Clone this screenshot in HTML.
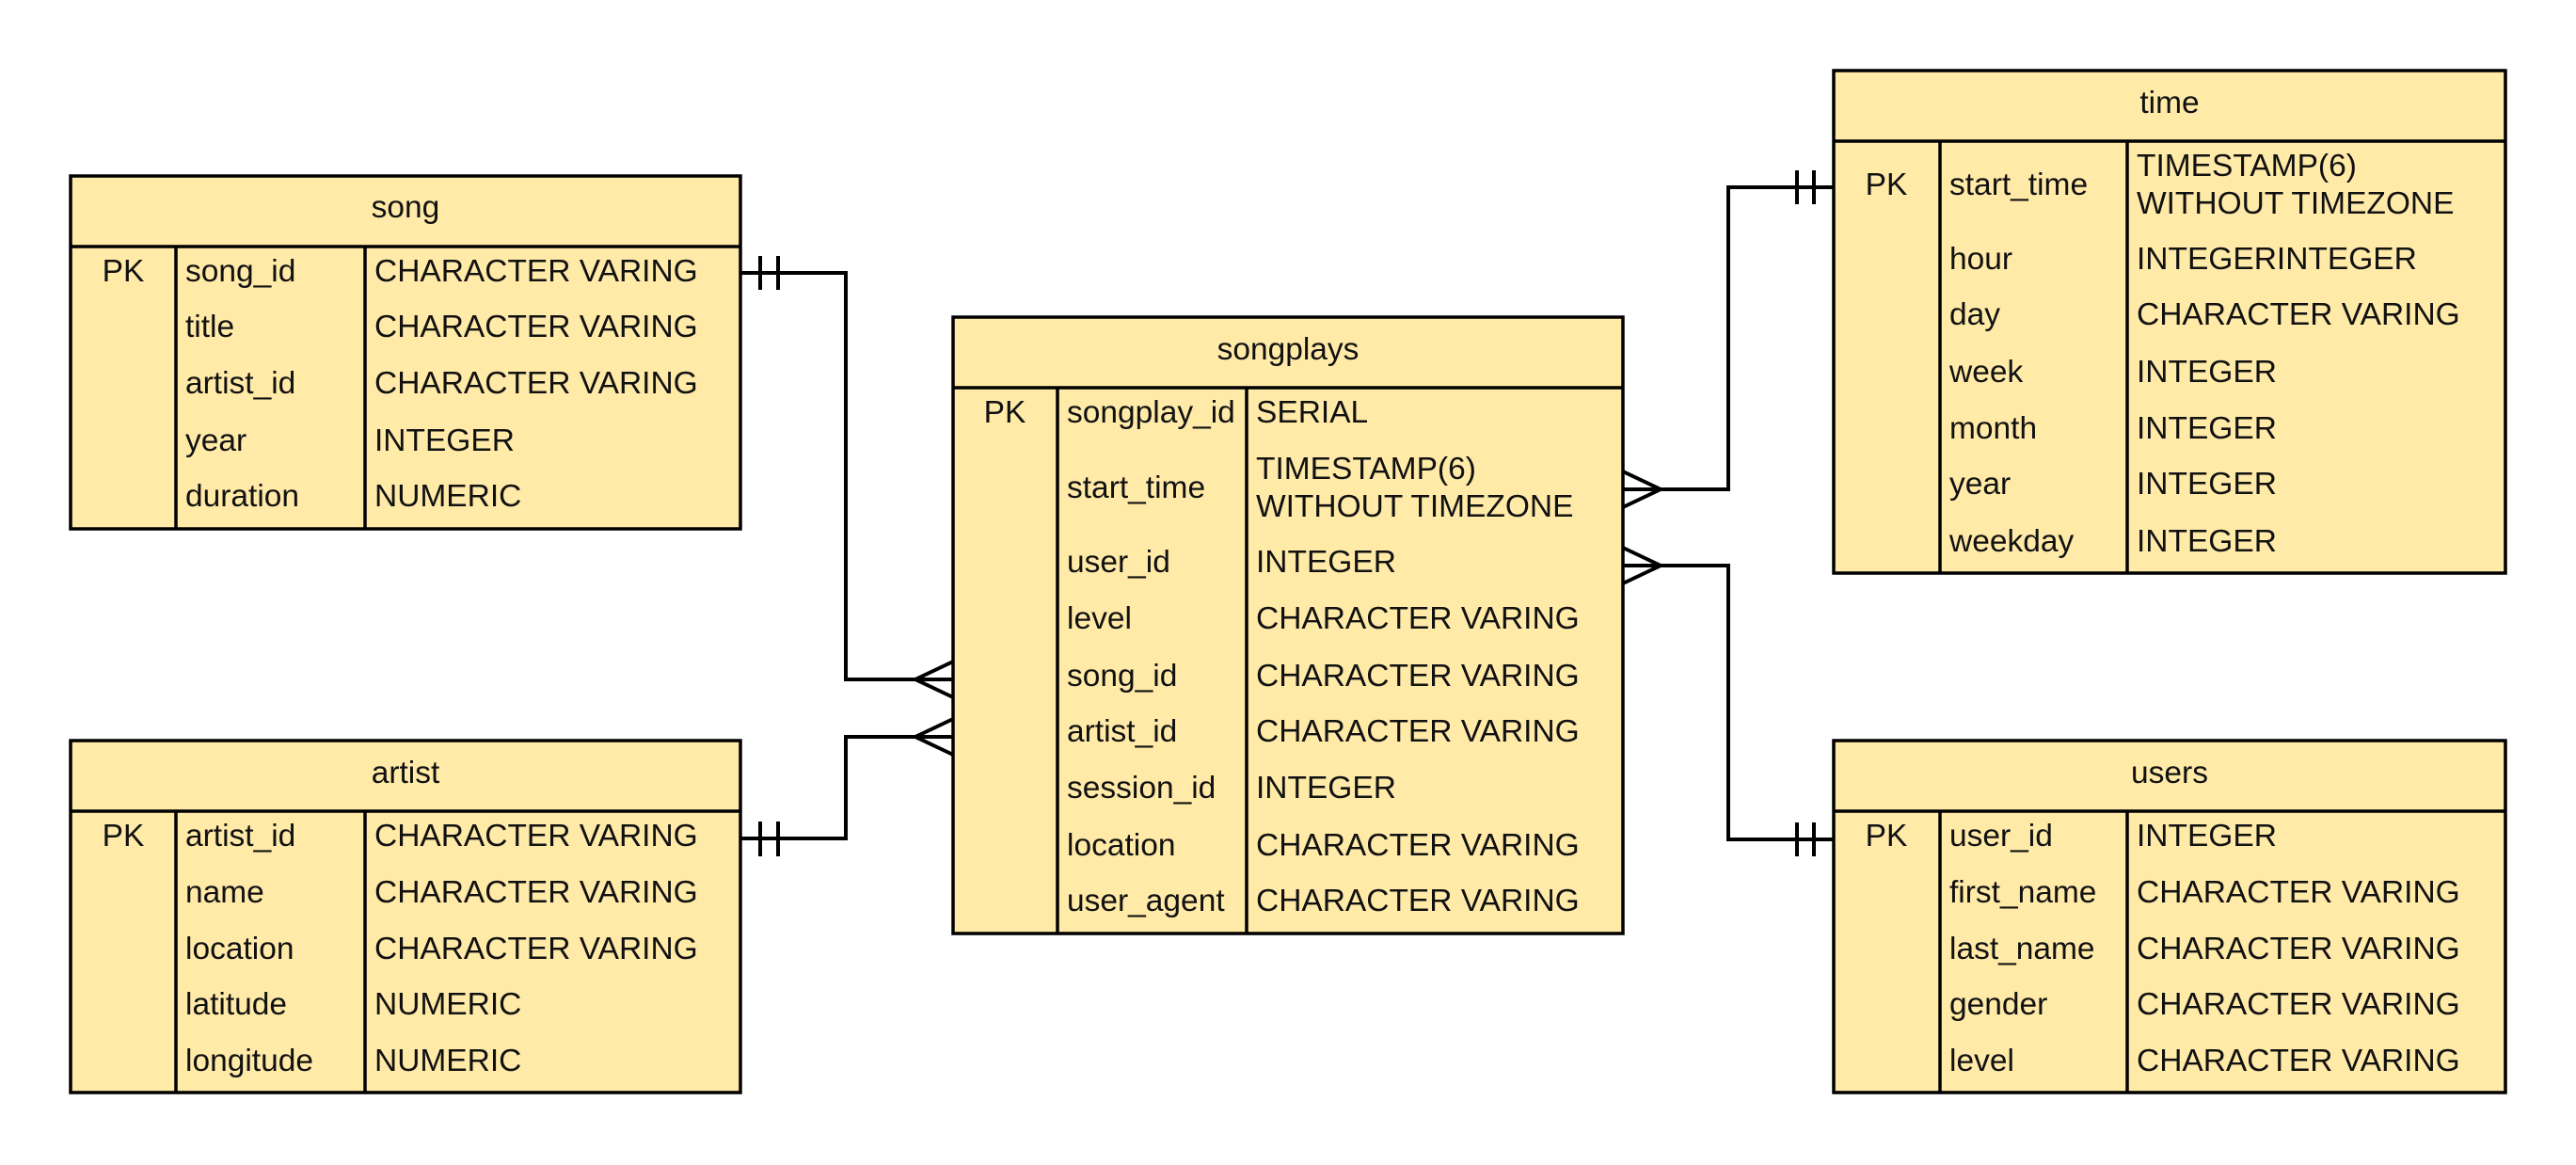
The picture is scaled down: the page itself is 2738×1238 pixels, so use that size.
<!DOCTYPE html>
<html><head><meta charset="utf-8"><style>
html,body{margin:0;padding:0;background:#fff;}
svg{display:block;}
text{font-family:"Liberation Sans",sans-serif;font-size:33.5px;fill:#111;}
</style></head><body>
<svg width="2738" height="1238" viewBox="0 0 2738 1238" xmlns="http://www.w3.org/2000/svg">
<g stroke="#000" stroke-width="3.5" fill="#FFEAA8">
<rect x="75" y="187" width="712" height="375"/>
<line x1="75" y1="262" x2="787" y2="262"/>
<line x1="187" y1="262" x2="187" y2="562"/>
<line x1="388" y1="262" x2="388" y2="562"/>
<rect x="75" y="787" width="712" height="374"/>
<line x1="75" y1="862" x2="787" y2="862"/>
<line x1="187" y1="862" x2="187" y2="1161"/>
<line x1="388" y1="862" x2="388" y2="1161"/>
<rect x="1013" y="337" width="712" height="655"/>
<line x1="1013" y1="412" x2="1725" y2="412"/>
<line x1="1124" y1="412" x2="1124" y2="992"/>
<line x1="1325" y1="412" x2="1325" y2="992"/>
<rect x="1949" y="75" width="714" height="534"/>
<line x1="1949" y1="150" x2="2663" y2="150"/>
<line x1="2062" y1="150" x2="2062" y2="609"/>
<line x1="2261" y1="150" x2="2261" y2="609"/>
<rect x="1949" y="787" width="714" height="374"/>
<line x1="1949" y1="862" x2="2663" y2="862"/>
<line x1="2062" y1="862" x2="2062" y2="1161"/>
<line x1="2261" y1="862" x2="2261" y2="1161"/>
</g>
<g stroke="#000" stroke-width="4" fill="none">
<polyline points="787,290 899,290 899,722 1013,722"/>
<line x1="808" y1="272" x2="808" y2="308"/><line x1="827" y1="272" x2="827" y2="308"/>
<polyline points="1013,703 973,722 1013,741"/>
<polyline points="787,891 899,891 899,783 1013,783"/>
<line x1="808" y1="873" x2="808" y2="910"/><line x1="827" y1="873" x2="827" y2="910"/>
<polyline points="1013,764 973,783 1013,802"/>
<polyline points="1725,520 1837,520 1837,199 1949,199"/>
<line x1="1910" y1="181" x2="1910" y2="217"/><line x1="1928" y1="181" x2="1928" y2="217"/>
<polyline points="1725,501 1765,520 1725,539"/>
<polyline points="1725,601 1837,601 1837,892 1949,892"/>
<line x1="1910" y1="874" x2="1910" y2="910"/><line x1="1928" y1="874" x2="1928" y2="910"/>
<polyline points="1725,582 1765,601 1725,620"/>
</g>
<text x="431" y="231" text-anchor="middle">song</text>
<text x="131" y="299" text-anchor="middle">PK</text>
<text x="197" y="299">song_id</text><text x="398" y="299">CHARACTER VARING</text>
<text x="197" y="358">title</text><text x="398" y="358">CHARACTER VARING</text>
<text x="197" y="418">artist_id</text><text x="398" y="418">CHARACTER VARING</text>
<text x="197" y="479">year</text><text x="398" y="479">INTEGER</text>
<text x="197" y="538">duration</text><text x="398" y="538">NUMERIC</text>
<text x="431" y="832" text-anchor="middle">artist</text>
<text x="131" y="899" text-anchor="middle">PK</text>
<text x="197" y="899">artist_id</text><text x="398" y="899">CHARACTER VARING</text>
<text x="197" y="959">name</text><text x="398" y="959">CHARACTER VARING</text>
<text x="197" y="1019">location</text><text x="398" y="1019">CHARACTER VARING</text>
<text x="197" y="1078">latitude</text><text x="398" y="1078">NUMERIC</text>
<text x="197" y="1138">longitude</text><text x="398" y="1138">NUMERIC</text>
<text x="1369" y="382" text-anchor="middle">songplays</text>
<text x="1068" y="449" text-anchor="middle">PK</text>
<text x="1134" y="449">songplay_id</text><text x="1335" y="449">SERIAL</text>
<text x="1134" y="529">start_time</text><text x="1335" y="509">TIMESTAMP(6)</text><text x="1335" y="549">WITHOUT TIMEZONE</text>
<text x="1134" y="608">user_id</text><text x="1335" y="608">INTEGER</text>
<text x="1134" y="668">level</text><text x="1335" y="668">CHARACTER VARING</text>
<text x="1134" y="729">song_id</text><text x="1335" y="729">CHARACTER VARING</text>
<text x="1134" y="788">artist_id</text><text x="1335" y="788">CHARACTER VARING</text>
<text x="1134" y="848">session_id</text><text x="1335" y="848">INTEGER</text>
<text x="1134" y="909">location</text><text x="1335" y="909">CHARACTER VARING</text>
<text x="1134" y="968">user_agent</text><text x="1335" y="968">CHARACTER VARING</text>
<text x="2306" y="120" text-anchor="middle">time</text>
<text x="2005" y="207" text-anchor="middle">PK</text>
<text x="2072" y="207">start_time</text><text x="2271" y="187">TIMESTAMP(6)</text><text x="2271" y="227">WITHOUT TIMEZONE</text>
<text x="2072" y="286">hour</text><text x="2271" y="286">INTEGERINTEGER</text>
<text x="2072" y="345">day</text><text x="2271" y="345">CHARACTER VARING</text>
<text x="2072" y="406">week</text><text x="2271" y="406">INTEGER</text>
<text x="2072" y="466">month</text><text x="2271" y="466">INTEGER</text>
<text x="2072" y="525">year</text><text x="2271" y="525">INTEGER</text>
<text x="2072" y="586">weekday</text><text x="2271" y="586">INTEGER</text>
<text x="2306" y="832" text-anchor="middle">users</text>
<text x="2005" y="899" text-anchor="middle">PK</text>
<text x="2072" y="899">user_id</text><text x="2271" y="899">INTEGER</text>
<text x="2072" y="959">first_name</text><text x="2271" y="959">CHARACTER VARING</text>
<text x="2072" y="1019">last_name</text><text x="2271" y="1019">CHARACTER VARING</text>
<text x="2072" y="1078">gender</text><text x="2271" y="1078">CHARACTER VARING</text>
<text x="2072" y="1138">level</text><text x="2271" y="1138">CHARACTER VARING</text>
</svg>
</body></html>
